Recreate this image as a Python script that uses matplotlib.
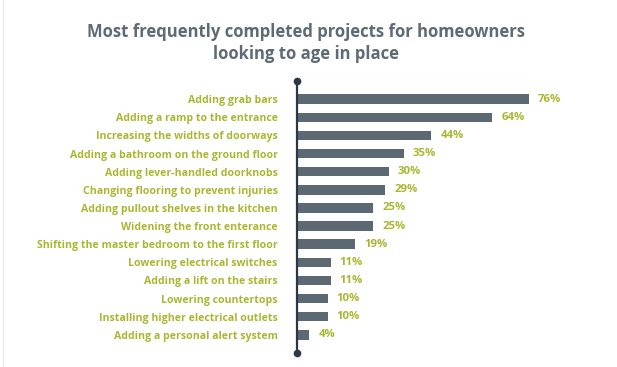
import matplotlib
matplotlib.use("Agg")
import matplotlib.pyplot as plt

categories = [
    "Adding grab bars",
    "Adding a ramp to the entrance",
    "Increasing the widths of doorways",
    "Adding a bathroom on the ground floor",
    "Adding lever-handled doorknobs",
    "Changing flooring to prevent injuries",
    "Adding pullout shelves in the kitchen",
    "Widening the front enterance",
    "Shifting the master bedroom to the first floor",
    "Lowering electrical switches",
    "Adding a lift on the stairs",
    "Lowering countertops",
    "Installing higher electrical outlets",
    "Adding a personal alert system",
]
values = [76, 64, 44, 35, 30, 29, 25, 25, 19, 11, 11, 10, 10, 4]
value_labels = [f"{v}%" for v in values]
title = "Most frequently completed projects for homeowners\nlooking to age in place"

BAR = "#5c6973"
GREEN = "#abb630"
TITLE_C = "#5e6b75"
AXIS_C = "#2c3843"

plt.rcParams['font.family'] = ['Open Sans', 'DejaVu Sans']

W, H = 617, 367
fig = plt.figure(figsize=(W / 100, H / 100), dpi=100)
fig.patch.set_facecolor("white")

ax = fig.add_axes([297 / W, 1 - 353 / H, 305 / W, 272 / H])
ypos = list(range(len(categories)))
ax.barh(ypos, values, height=0.52, color=BAR, edgecolor="none")
ax.set_xlim(0, 100)
ax.set_ylim(14, -1)
ax.plot([0, 0], [-1, 14], color=AXIS_C, lw=1.6, marker="o", markersize=4.5,
        clip_on=False, zorder=5)

for y, v, lab in zip(ypos, values, value_labels):
    ax.text(v + 3, y, lab, va="center", ha="left", color=GREEN,
            fontsize=8.2, fontweight="bold")

ax.set_yticks(ypos)
ax.set_yticklabels(categories, color=GREEN, fontsize=7.6, fontweight="bold")
ax.tick_params(axis="y", length=0, pad=14)
ax.set_xticks([])
for s in ax.spines.values():
    s.set_visible(False)

fig.text(306 / W, 1 - 43 / H, title, ha="center", va="center",
         color=TITLE_C, fontsize=12, fontweight="bold", linespacing=1.35)

fig.add_artist(plt.Line2D([3 / W, 3 / W], [0, 1], color="#e6e6e6", lw=0.8))

fig.savefig("out.png", dpi=100, facecolor="white")
